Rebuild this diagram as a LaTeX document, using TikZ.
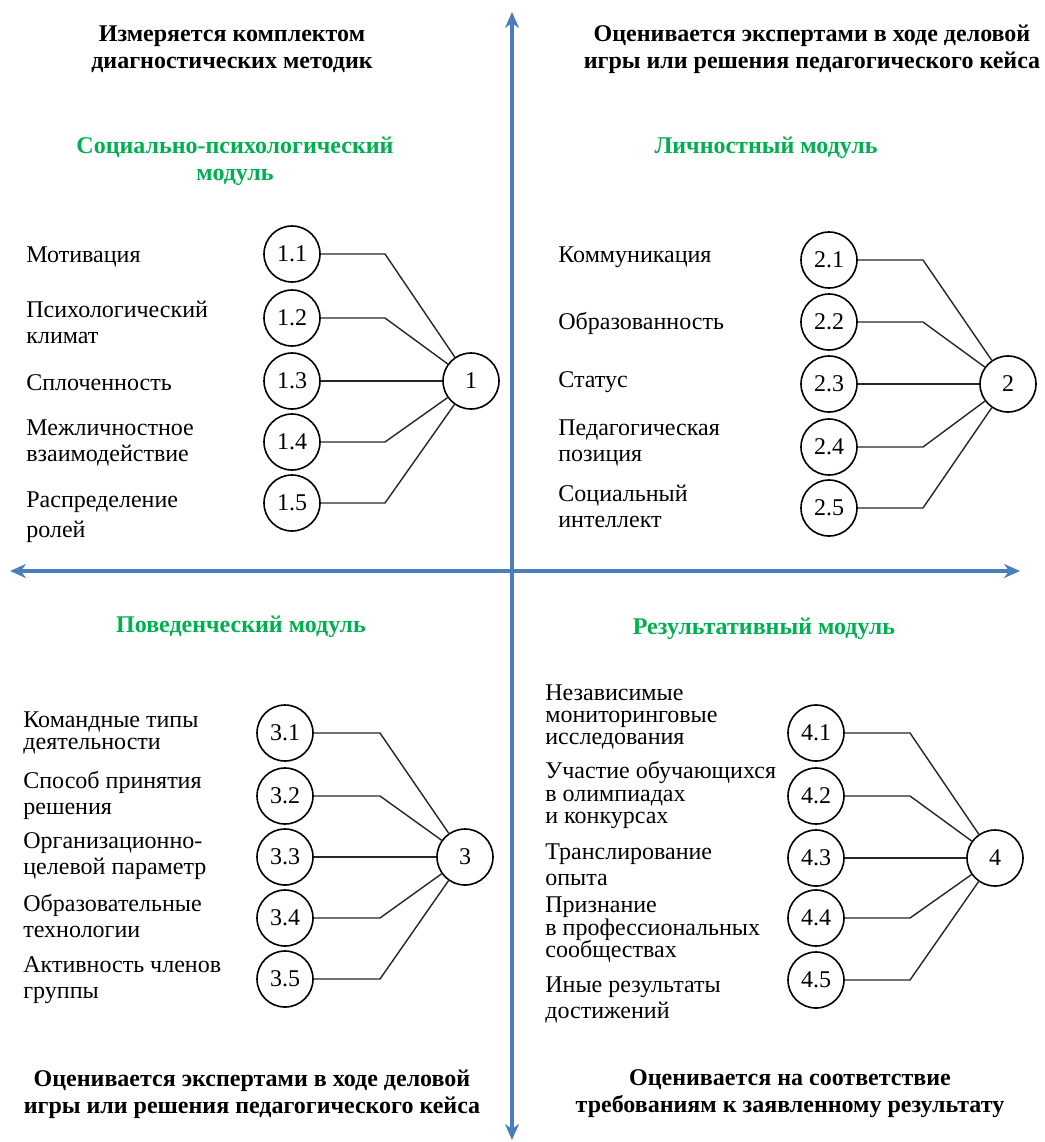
\documentclass[tikz,border=0pt]{standalone}
\usepackage{fontspec}
\setmainfont{Liberation Serif}
\usepackage{tikz}
\usetikzlibrary{arrows.meta}
\usetikzlibrary{calc}

\definecolor{modgreen}{HTML}{00B050}
\definecolor{axisblue}{HTML}{4A7EBB}

\tikzset{
  item/.style = {anchor=west, align=left, inner sep=0pt, font=\fontsize{12}{13}\selectfont},
  tightitem/.style = {item, font=\fontsize{12}{11.2}\selectfont},
  subnode/.style = {circle, draw=black, line width=0.8pt, minimum size=28pt, inner sep=0pt, font=\fontsize{12}{13}\selectfont},
  headline/.style = {align=center, inner sep=0pt, font=\bfseries\fontsize{12}{13.5}\selectfont},
  modline/.style = {headline, text=modgreen},
  link/.style = {draw=black!85, line width=0.7pt},
  axis/.style = {draw=axisblue, line width=2pt, {Stealth[length=8pt,width=7pt]}-{Stealth[length=8pt,width=7pt]}}
}

\begin{document}
\begin{tikzpicture}[x=0.5pt, y=-0.5pt]
\useasboundingbox (0,0) rectangle (1045,1142);

%draw axes
\coordinate (axtop) at (512,12);
\coordinate (axbot) at (512,1140);
\coordinate (axleft) at (10,571);
\coordinate (axright) at (1020,571);
\draw[axis] (axbot) to (axtop);
\draw[axis] (axleft) to (axright);

%draw headings
\node[headline] (head1) at (232,49) {Измеряется комплектом\\диагностических методик};
\node[headline] (head2) at (812,49) {Оценивается экспертами в ходе деловой\\игры или решения педагогического кейса};
\node[headline] (head3) at (252,1094) {Оценивается экспертами в ходе деловой\\игры или решения педагогического кейса};
\node[headline] (head4) at (790,1094) {Оценивается на соответствие\\требованиям к заявленному результату};

%draw module titles
\node[modline] (mod1) at (235,161) {Социально-психологический\\модуль};
\node[modline] (mod2) at (766,148) {Личностный модуль};
\node[modline] (mod3) at (241,627) {Поведенческий модуль};
\node[modline] (mod4) at (764,629) {Результативный модуль};

%social-psychological module
\node[subnode] (m1) at (471,381) {1};
\node[subnode] (m11) at (292,254) {1.1};
\node[subnode] (m12) at (292,318) {1.2};
\node[subnode] (m13) at (292,381) {1.3};
\node[subnode] (m14) at (292,442) {1.4};
\node[subnode] (m15) at (292,503) {1.5};
\coordinate (k1) at (385,381);
\draw[link] (m11) -- (m11 -| k1) -- (m1);
\draw[link] (m12) -- (m12 -| k1) -- (m1);
\draw[link] (m13) -- (m13 -| k1) -- (m1);
\draw[link] (m14) -- (m14 -| k1) -- (m1);
\draw[link] (m15) -- (m15 -| k1) -- (m1);
\node[item] (t11) at (26,257) {Мотивация};
\node[item] (t12) at (26,322) {Психологический\\климат};
\node[item] (t13) at (26,383) {Сплоченность};
\node[item] (t14) at (26,443) {Межличностное\\взаимодействие};
\node[item] (t15) at (26,517) {Распределение\\[2pt]ролей};

%personal module
\node[subnode] (m2) at (1008,384) {2};
\node[subnode] (m21) at (829,260) {2.1};
\node[subnode] (m22) at (829,322) {2.2};
\node[subnode] (m23) at (829,384) {2.3};
\node[subnode] (m24) at (829,447) {2.4};
\node[subnode] (m25) at (829,508) {2.5};
\coordinate (k2) at (923,384);
\draw[link] (m21) -- (m21 -| k2) -- (m2);
\draw[link] (m22) -- (m22 -| k2) -- (m2);
\draw[link] (m23) -- (m23 -| k2) -- (m2);
\draw[link] (m24) -- (m24 -| k2) -- (m2);
\draw[link] (m25) -- (m25 -| k2) -- (m2);
\node[item] (t21) at (558,257) {Коммуникация};
\node[item] (t22) at (558,323) {Образованность};
\node[item] (t23) at (558,382) {Статус};
\node[item] (t24) at (558,443) {Педагогическая\\позиция};
\node[item] (t25) at (558,506) {Социальный\\интеллект};

%behavioural module
\node[subnode] (m3) at (465,857) {3};
\node[subnode] (m31) at (285,733) {3.1};
\node[subnode] (m32) at (285,796) {3.2};
\node[subnode] (m33) at (285,857) {3.3};
\node[subnode] (m34) at (285,918) {3.4};
\node[subnode] (m35) at (285,979) {3.5};
\coordinate (k3) at (380,857);
\draw[link] (m31) -- (m31 -| k3) -- (m3);
\draw[link] (m32) -- (m32 -| k3) -- (m3);
\draw[link] (m33) -- (m33 -| k3) -- (m3);
\draw[link] (m34) -- (m34 -| k3) -- (m3);
\draw[link] (m35) -- (m35 -| k3) -- (m3);
\node[tightitem] (t31) at (23,733) {Командные типы\\деятельности};
\node[item] (t32) at (23,795) {Способ принятия\\решения};
\node[item] (t33) at (23,856) {Организационно-\\целевой параметр};
\node[item] (t34) at (23,916) {Образовательные\\технологии};
\node[item] (t35) at (23,980) {Активность членов\\группы};

%result module
\node[subnode] (m4) at (995,858) {4};
\node[subnode] (m41) at (816,733) {4.1};
\node[subnode] (m42) at (816,796) {4.2};
\node[subnode] (m43) at (816,858) {4.3};
\node[subnode] (m44) at (816,918) {4.4};
\node[subnode] (m45) at (816,980) {4.5};
\coordinate (k4) at (910,858);
\draw[link] (m41) -- (m41 -| k4) -- (m4);
\draw[link] (m42) -- (m42 -| k4) -- (m4);
\draw[link] (m43) -- (m43 -| k4) -- (m4);
\draw[link] (m44) -- (m44 -| k4) -- (m4);
\draw[link] (m45) -- (m45 -| k4) -- (m4);
\node[tightitem] (t41) at (545,717) {Независимые\\мониторинговые\\исследования};
\node[tightitem] (t42) at (545,795) {Участие обучающихся\\в олимпиадах\\и конкурсах};
\node[item] (t43) at (545,865) {Транслирование\\опыта};
\node[tightitem] (t44) at (545,930) {Признание\\в профессиональных\\сообществах};
\node[item] (t45) at (545,1000) {Иные результаты\\достижений};
\end{tikzpicture}
\end{document}
